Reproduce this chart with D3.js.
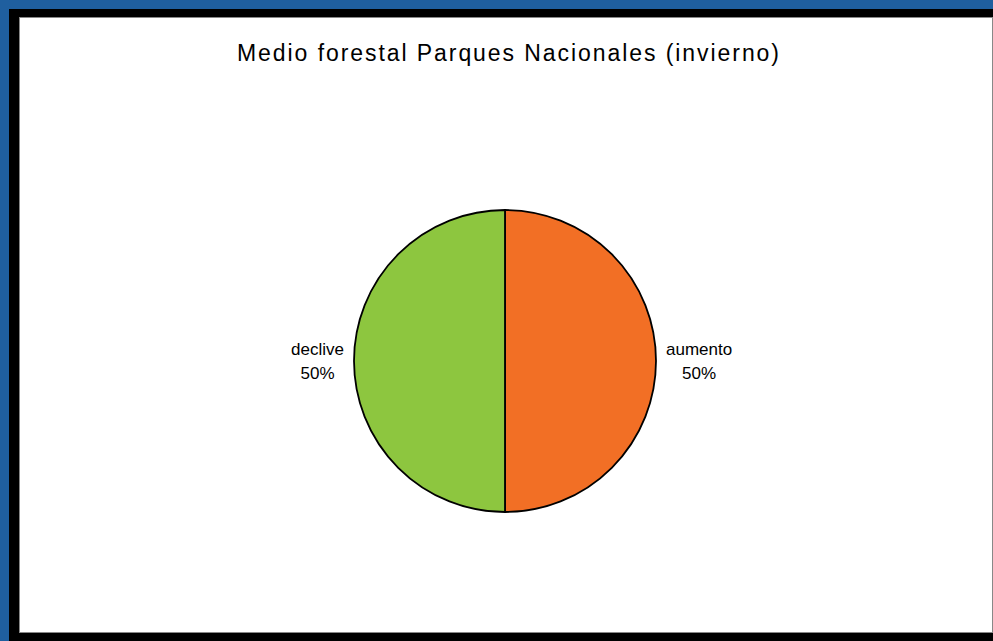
<!DOCTYPE html>
<html>
<head>
<meta charset="utf-8">
<script src="https://cdn.jsdelivr.net/npm/d3@7"></script>
<style>
  body { margin: 0; background: #1f5f9f; }
  svg { display: block; }
</style>
</head>
<body>
<div id="chart"></div>
<script>
var title = "Medio forestal Parques Nacionales (invierno)";
var categories = ["aumento", "declive"];
var values = [50, 50];
var colors = ["#f26f25", "#8dc63f"];

var width = 993,
    height = 641;

var svg = d3.select("#chart")
    .append("svg")
    .attr("width", width)
    .attr("height", height);

// frame
svg.append("rect")
    .attr("x", 9).attr("y", 9)
    .attr("width", width - 9).attr("height", height - 9)
    .style("fill", "#000");

svg.append("rect")
    .attr("x", 19.5).attr("y", 17.5)
    .attr("width", 973).attr("height", 615)
    .style("fill", "#fff")
    .style("stroke", "#888")
    .style("stroke-width", 1);

svg.append("text")
    .attr("x", 508)
    .attr("y", 61)
    .attr("text-anchor", "middle")
    .attr("textLength", 542)
    .attr("lengthAdjust", "spacing")
    .style("font-family", "Liberation Sans, Arial, sans-serif")
    .style("font-size", "23px")
    .style("fill", "#000")
    .text(title);

var cx = 505, cy = 361, r = 151;

var pie = d3.pie()
    .sort(null)
    .value(function(d) { return d; });

var arc = d3.arc()
    .innerRadius(0)
    .outerRadius(r);

var g = svg.append("g")
    .attr("transform", "translate(" + cx + "," + cy + ")");

var arcs = pie(values);

g.selectAll("path")
    .data(arcs)
    .enter()
    .append("path")
    .attr("d", arc)
    .style("fill", function(d, i) { return colors[i]; })
    .style("stroke", "#000")
    .style("stroke-width", 1.8);

// labels just outside the slices, 10px gap from the rim
var labels = g.selectAll("text.lbl")
    .data(arcs)
    .enter()
    .append("text")
    .attr("class", "lbl")
    .attr("text-anchor", "middle")
    .style("font-family", "Liberation Sans, Arial, sans-serif")
    .style("font-size", "17px")
    .style("fill", "#000");

labels.append("tspan")
    .attr("x", 0)
    .attr("dy", 0)
    .text(function(d, i) { return categories[i]; });

labels.append("tspan")
    .attr("x", 0)
    .attr("dy", 24)
    .text(function(d) { return d.value + "%"; });

labels.attr("transform", function(d) {
  var w = this.getBBox().width;
  var mid = (d.startAngle + d.endAngle) / 2;
  var side = Math.sin(mid) >= 0 ? 1 : -1;
  var x = side * (r + 10 + w / 2);
  return "translate(" + x + "," + (-Math.cos(mid) * r - 6) + ")";
});
</script>
</body>
</html>
